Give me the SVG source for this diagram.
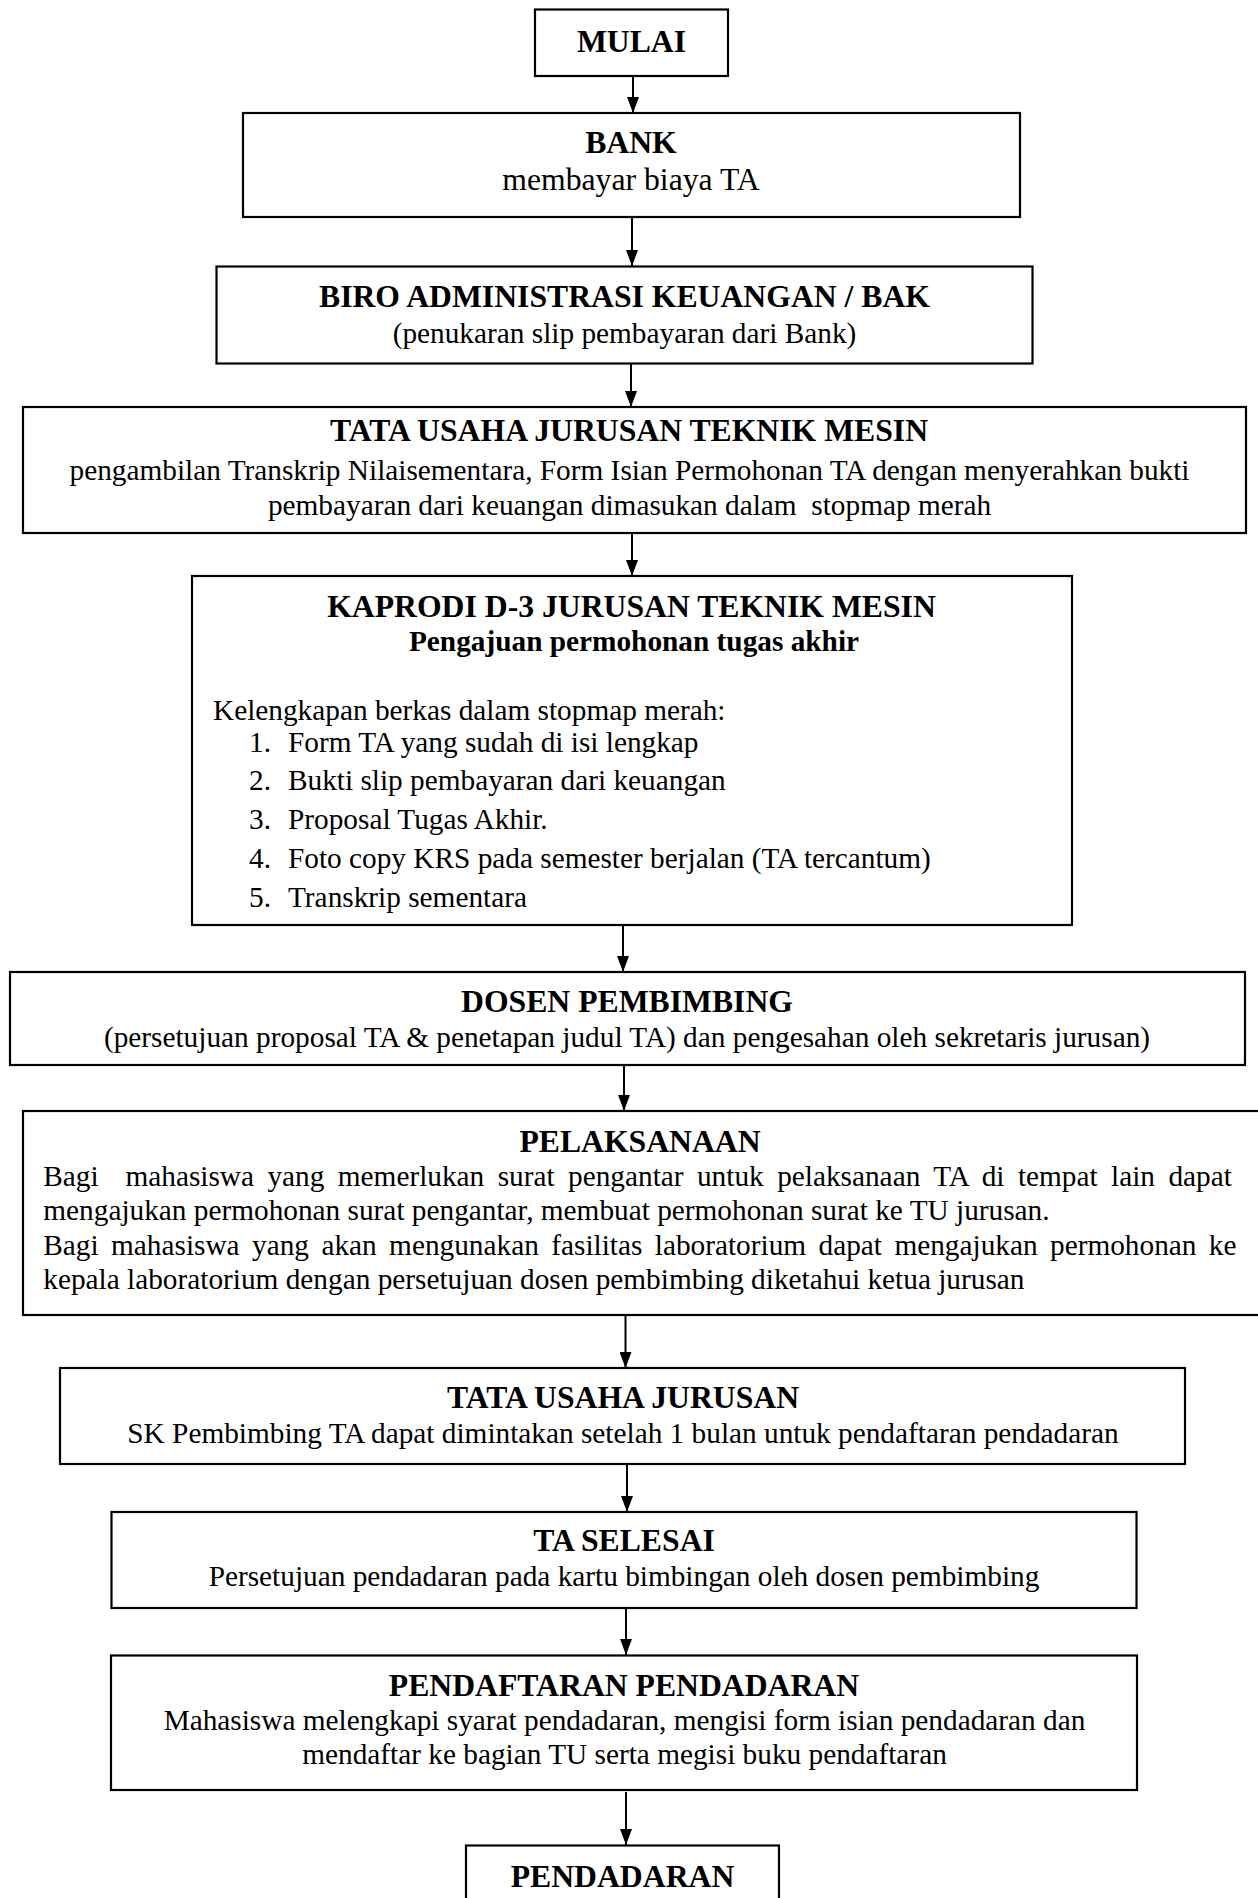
<svg xmlns="http://www.w3.org/2000/svg" width="1258" height="1898" viewBox="0 0 1258 1898">
<style>
.box{fill:#fff;stroke:#000;stroke-width:2.2}
text{font-family:"Liberation Serif","Times New Roman",serif;fill:#000}
.t{font-size:31.7px;font-weight:bold;text-anchor:middle}
.b{font-size:29.3px;text-anchor:middle}
.bb{font-size:29.3px;font-weight:bold;text-anchor:middle}
.l{font-size:29.3px}
.c{stroke:#000;stroke-width:2;fill:none}
</style>
<defs>
<marker id="ah" markerUnits="userSpaceOnUse" markerWidth="16" markerHeight="12" refX="16" refY="6" orient="auto">
<path d="M0,0 L16,6 L0,12 z" fill="#000"/>
</marker>
</defs>
<rect x="0" y="0" width="1258" height="1898" fill="#fff"/>

<g id="connectors">
<line class="c" x1="633" y1="76" x2="633" y2="113" marker-end="url(#ah)"/>
<line class="c" x1="632" y1="217" x2="632" y2="266" marker-end="url(#ah)"/>
<line class="c" x1="631" y1="363.5" x2="631" y2="407" marker-end="url(#ah)"/>
<line class="c" x1="632" y1="533" x2="632" y2="576" marker-end="url(#ah)"/>
<line class="c" x1="623" y1="925" x2="623" y2="972" marker-end="url(#ah)"/>
<line class="c" x1="624" y1="1065" x2="624" y2="1111" marker-end="url(#ah)"/>
<line class="c" x1="625.5" y1="1315" x2="625.5" y2="1368" marker-end="url(#ah)"/>
<line class="c" x1="627" y1="1464" x2="627" y2="1512" marker-end="url(#ah)"/>
<line class="c" x1="626" y1="1608" x2="626" y2="1655" marker-end="url(#ah)"/>
<line class="c" x1="626" y1="1792" x2="626" y2="1845" marker-end="url(#ah)"/>
</g>

<g id="mulai">
<rect class="box" x="535" y="9.5" width="193" height="66.5"/>
<text class="t" x="631.5" y="52">MULAI</text>
</g>

<g id="bank">
<rect class="box" x="243" y="113" width="777" height="104"/>
<text class="t" x="631" y="153">BANK</text>
<text class="b" x="631" y="190" style="font-size:31.7px">membayar biaya TA</text>
</g>

<g id="biro">
<rect class="box" x="216.5" y="266.5" width="816" height="97"/>
<text class="t" x="624.5" y="307">BIRO ADMINISTRASI KEUANGAN / BAK</text>
<text class="b" x="624.5" y="343">(penukaran slip pembayaran dari Bank)</text>
</g>

<g id="tata-usaha-tm">
<rect class="box" x="23" y="407" width="1223" height="126"/>
<text class="t" x="629" y="441">TATA USAHA JURUSAN TEKNIK MESIN</text>
<text class="b" x="629.5" y="480">pengambilan Transkrip Nilaisementara, Form Isian Permohonan TA dengan menyerahkan bukti</text>
<text class="b" x="629.5" y="515" xml:space="preserve">pembayaran dari keuangan dimasukan dalam  stopmap merah</text>
</g>

<g id="kaprodi">
<rect class="box" x="192" y="576" width="880" height="349"/>
<text class="t" x="631.5" y="617">KAPRODI D-3 JURUSAN TEKNIK MESIN</text>
<text class="bb" x="634" y="651">Pengajuan permohonan tugas akhir</text>
<text class="l" x="213" y="720">Kelengkapan berkas dalam stopmap merah:</text>
<text class="l" x="249" y="752">1.</text><text class="l" x="288" y="752">Form TA yang sudah di isi lengkap</text>
<text class="l" x="249" y="790">2.</text><text class="l" x="288" y="790">Bukti slip pembayaran dari keuangan</text>
<text class="l" x="249" y="829">3.</text><text class="l" x="288" y="829">Proposal Tugas Akhir.</text>
<text class="l" x="249" y="868">4.</text><text class="l" x="288" y="868">Foto copy KRS pada semester berjalan (TA tercantum)</text>
<text class="l" x="249" y="907">5.</text><text class="l" x="288" y="907">Transkrip sementara</text>
</g>

<g id="dosen">
<rect class="box" x="10" y="972" width="1235" height="93"/>
<text class="t" x="627" y="1012">DOSEN PEMBIMBING</text>
<text class="b" x="627" y="1047">(persetujuan proposal TA &amp; penetapan judul TA) dan pengesahan oleh sekretaris jurusan)</text>
</g>

<g id="pelaksanaan">
<rect class="box" x="23" y="1111" width="1245" height="204"/>
<text class="t" x="640" y="1152">PELAKSANAAN</text>
<text class="l" x="43.3" y="1186" xml:space="preserve" style="word-spacing:6.1px">Bagi  mahasiswa yang memerlukan surat pengantar untuk pelaksanaan TA di tempat lain dapat</text>
<text class="l" x="43.3" y="1220">mengajukan permohonan surat pengantar, membuat permohonan surat ke TU jurusan.</text>
<text class="l" x="43.3" y="1254.5" style="word-spacing:5.1px">Bagi mahasiswa yang akan mengunakan fasilitas laboratorium dapat mengajukan permohonan ke</text>
<text class="l" x="43.3" y="1288.5">kepala laboratorium dengan persetujuan dosen pembimbing diketahui ketua jurusan</text>
</g>

<g id="tata-usaha-jurusan">
<rect class="box" x="60" y="1368" width="1125" height="96"/>
<text class="t" x="623" y="1408">TATA USAHA JURUSAN</text>
<text class="b" x="623" y="1443">SK Pembimbing TA dapat dimintakan setelah 1 bulan untuk pendaftaran pendadaran</text>
</g>

<g id="ta-selesai">
<rect class="box" x="111.5" y="1512" width="1025" height="96"/>
<text class="t" x="624" y="1551">TA SELESAI</text>
<text class="b" x="624" y="1586">Persetujuan pendadaran pada kartu bimbingan oleh dosen pembimbing</text>
</g>

<g id="pendaftaran">
<rect class="box" x="111" y="1655.5" width="1026" height="134.5"/>
<text class="t" x="624" y="1696">PENDAFTARAN PENDADARAN</text>
<text class="b" x="624.5" y="1730">Mahasiswa melengkapi syarat pendadaran, mengisi form isian pendadaran dan</text>
<text class="b" x="624.5" y="1764">mendaftar ke bagian TU serta megisi buku pendaftaran</text>
</g>

<g id="pendadaran">
<rect class="box" x="466" y="1845.5" width="313" height="70"/>
<text class="t" x="622.5" y="1887">PENDADARAN</text>
</g>
</svg>
